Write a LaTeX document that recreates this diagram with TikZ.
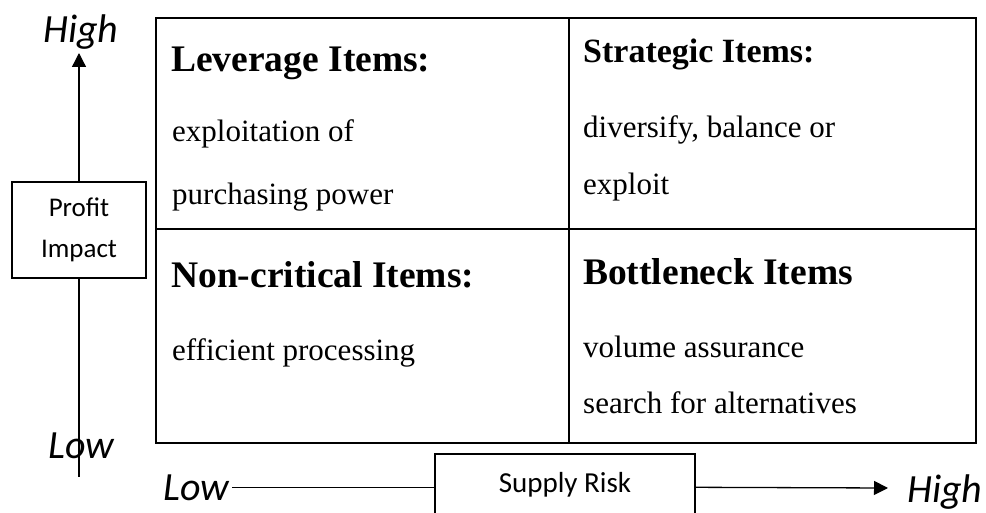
\documentclass[tikz,border=0pt]{standalone}
\usepackage{fontspec}
\setmainfont{Liberation Serif}
\newfontfamily\calibrifont{Carlito}
\usetikzlibrary{arrows.meta}
\tikzset{
  cell/.style={draw, line width=1.6pt, inner sep=0pt, anchor=north west},
  head/.style={anchor=base west, inner sep=0pt, font=\fontsize{37.5}{40}\selectfont\bfseries},
  headsmall/.style={anchor=base west, inner sep=0pt, font=\fontsize{34}{36}\selectfont\bfseries},
  body/.style={anchor=base west, inner sep=0pt, font=\fontsize{31}{34}\selectfont},
  axlabel/.style={anchor=base west, inner sep=0pt, font=\calibrifont\itshape\fontsize{40}{42}\selectfont},
  axbox/.style={draw, line width=1.8pt},
  axline/.style={line width=1.3pt},
  tip/.style={-{Triangle[length=14pt,width=14pt]}}
}
\begin{document}
\begin{tikzpicture}[x=1pt,y=-1pt]
\useasboundingbox (0,0) rectangle (986,513);
% grid cells
\node[cell, minimum width=413pt, minimum height=211pt] (lt) at (155,17) {};
\node[cell, minimum width=407pt, minimum height=211pt] (rt) at (568,17) {};
\node[cell, minimum width=413pt, minimum height=214pt] (lb) at (155,228) {};
\node[cell, minimum width=407pt, minimum height=214pt] (rb) at (568,228) {};
% texts
\node[head] (levh) at (171,72) {Leverage Items:};
\node[body] (lev1) at (172,142) {exploitation of};
\node[body] (lev2) at (172,205) {purchasing power};
\node[headsmall] (strh) at (583,63) {Strategic Items:};
\node[body] (str1) at (583,138) {diversify, balance or};
\node[body] (str2) at (583,195) {exploit};
\node[head] (nonh) at (171,288) {Non-critical Items:};
\node[body] (non1) at (172,360) {efficient processing};
\node[head] (botth) at (583,285) {Bottleneck Items};
\node[body] (bott1) at (583,357) {volume assurance};
\node[body] (bott2) at (583,413) {search for alternatives};
% left axis
\node[axlabel] (highL) at (43,43) {High};
\node[axlabel] (lowL) at (48,458) {Low};
\node[axbox, minimum width=134pt, minimum height=96pt, align=center,
      font=\calibrifont\fontsize{27}{41}\selectfont] (profit) at (79,230) {Profit\\Impact};
\coordinate (topTip) at (79,53);
\coordinate (botEnd) at (79,477);
\draw[axline, tip] (profit.north) -- (topTip);
\draw[axline] (profit.south) -- (botEnd);
% bottom axis
\node[axlabel] (lowB) at (163,500) {Low};
\node[axlabel] (highB) at (907,502) {High};
\node[axbox, anchor=north, minimum width=260pt, text height=20pt, text depth=48pt,
      inner ysep=19pt, font=\calibrifont\fontsize{29}{31}\selectfont] (supply) at (565,453) {Supply Risk};
\coordinate (tipR) at (888,488);
\draw[axline] (lowB.east) ++(3,0) -- (lowB.east -| supply.west);
\draw[axline, tip] (supply.east |- lowB.east) -- (tipR);
\end{tikzpicture}
\end{document}
